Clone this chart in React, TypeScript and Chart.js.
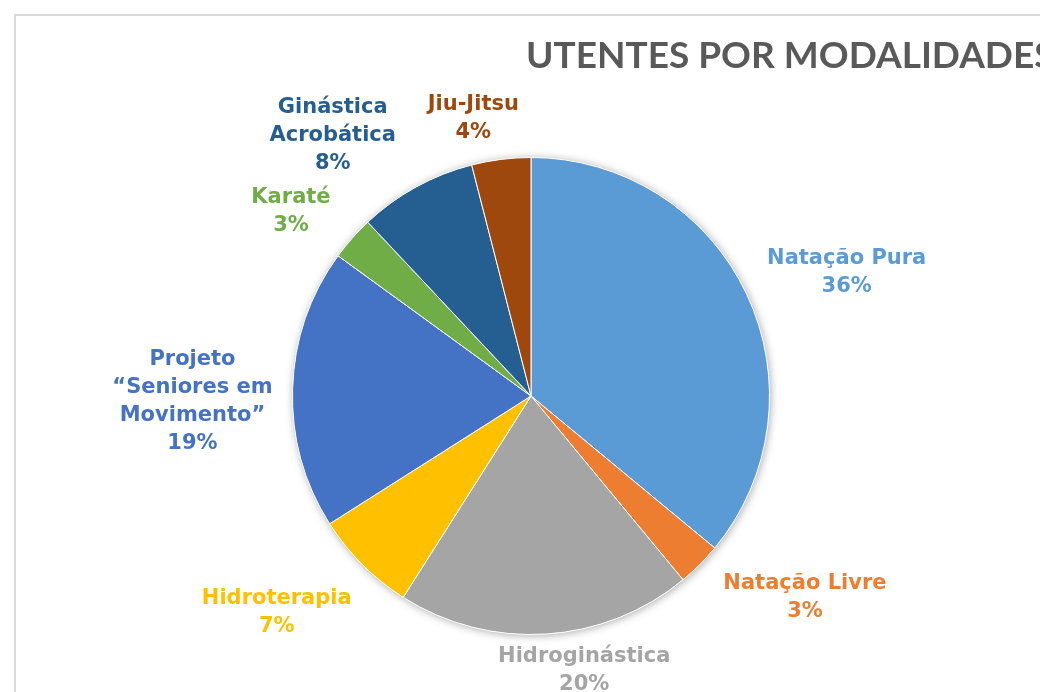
import React, { useEffect, useRef } from 'react';
import { Chart, registerables } from 'chart.js';

Chart.register(...registerables);

// Modalidades, in drawing order (clockwise from 12 o'clock)
const categories = [
  'Natação Pura',
  'Natação Livre',
  'Hidroginástica',
  'Hidroterapia',
  'Projeto “Seniores em Movimento”',
  'Karaté',
  'Ginástica Acrobática',
  'Jiu-Jitsu',
];

// How each category name is broken over lines in its label
const labelLines = [
  ['Natação Pura'],
  ['Natação Livre'],
  ['Hidroginástica'],
  ['Hidroterapia'],
  ['Projeto', '“Seniores em', 'Movimento”'],
  ['Karaté'],
  ['Ginástica', 'Acrobática'],
  ['Jiu-Jitsu'],
];

// Share of utentes per modalidade (%)
const shares = [36, 3, 20, 7, 19, 3, 8, 4];

const sliceColors = [
  '#5B9BD5',
  '#ED7D31',
  '#A5A5A5',
  '#FFC000',
  '#4472C4',
  '#70AD47',
  '#255E91',
  '#9E480E',
];

const chartTitle = 'UTENTES POR MODALIDADES';

const LABEL_FONT = 'bold 21px "DejaVu Sans", Verdana, sans-serif';
const LINE_H = 28;
// Fine placement of each label box relative to its outside-end anchor (px)
const LABEL_NUDGE: [number, number][] = [
  [4, 4],
  [11, -8],
  [29, -9],
  [2, 7],
  [-2, 16],
  [-8, 13],
  [-29, 6],
  [-17, 5],
];

// Soft shadow under the whole pie
const pieShadow = {
  id: 'pieShadow',
  beforeDatasetsDraw(chart: any) {
    const meta = chart.getDatasetMeta(0);
    const arc = meta.data[0];
    if (!arc) return;
    const { x, y, outerRadius } = arc.getProps(['x', 'y', 'outerRadius'], true);
    const ctx = chart.ctx;
    ctx.save();
    ctx.shadowColor = 'rgba(0,0,0,0.35)';
    ctx.shadowBlur = 9;
    ctx.shadowOffsetX = 1;
    ctx.shadowOffsetY = 1;
    ctx.fillStyle = '#ffffff';
    ctx.beginPath();
    ctx.arc(x, y, outerRadius, 0, Math.PI * 2);
    ctx.fill();
    ctx.restore();
  },
};

// Title plus the outside-end category labels
const pieLabels = {
  id: 'pieLabels',
  afterDatasetsDraw(chart: any) {
    const ctx = chart.ctx;
    ctx.save();
    ctx.font = 'bold 37px Lato, "Open Sans", sans-serif';
    ctx.fillStyle = '#595959';
    ctx.textAlign = 'left';
    ctx.textBaseline = 'alphabetic';
    ctx.fillText(chartTitle, 526, 68);

    const meta = chart.getDatasetMeta(0);
    ctx.font = LABEL_FONT;
    ctx.textAlign = 'center';
    ctx.textBaseline = 'middle';
    const clamp = (v: number) => Math.max(-1, Math.min(1, v * 1.5));
    meta.data.forEach((arc: any, i: number) => {
      const { x, y, startAngle, endAngle, outerRadius } = arc.getProps(
        ['x', 'y', 'startAngle', 'endAngle', 'outerRadius'],
        true
      );
      const mid = (startAngle + endAngle) / 2;
      const dx = Math.cos(mid);
      const dy = Math.sin(mid);
      const r = outerRadius + 18;
      const px = x + dx * r;
      const py = y + dy * r;
      const lines = [...labelLines[i], `${shares[i]}%`];
      const w = Math.max(...lines.map((l) => ctx.measureText(l).width));
      const h = lines.length * LINE_H;
      const cx = px + (clamp(dx) * w) / 2 + LABEL_NUDGE[i][0];
      const cy = py + (clamp(dy) * h) / 2 + LABEL_NUDGE[i][1];
      ctx.fillStyle = sliceColors[i];
      lines.forEach((line, k) => {
        ctx.fillText(line, cx, cy - h / 2 + LINE_H * (k + 0.5));
      });
    });
    ctx.restore();
  },
};

export default function App() {
  const canvasRef = useRef<HTMLCanvasElement | null>(null);

  useEffect(() => {
    if (!canvasRef.current) return;
    const chart = new Chart(canvasRef.current, {
      type: 'pie',
      data: {
        labels: categories,
        datasets: [
          {
            data: shares,
            backgroundColor: sliceColors,
            borderColor: '#ffffff',
            borderWidth: 1,
          },
        ],
      },
      options: {
        responsive: false,
        maintainAspectRatio: false,
        devicePixelRatio: 1,
        animation: false,
        layout: { padding: { left: 292, right: 270, top: 157, bottom: 57 } },
        plugins: {
          legend: { display: false },
          tooltip: { enabled: false },
          title: { display: false },
        },
      },
      plugins: [pieShadow, pieLabels],
    });
    return () => chart.destroy();
  }, []);

  return (
    <div
      style={{
        position: 'fixed',
        left: 0,
        top: 0,
        width: 1040,
        height: 692,
        overflow: 'hidden',
        background: '#ffffff',
      }}
    >
      <div
        style={{
          position: 'absolute',
          left: 14,
          top: 14,
          width: 1200,
          height: 1000,
          borderLeft: '2px solid #d9d9d9',
          borderTop: '2px solid #d9d9d9',
        }}
      />
      <canvas
        ref={canvasRef}
        width={1040}
        height={692}
        style={{ position: 'absolute', left: 0, top: 0 }}
      />
    </div>
  );
}
